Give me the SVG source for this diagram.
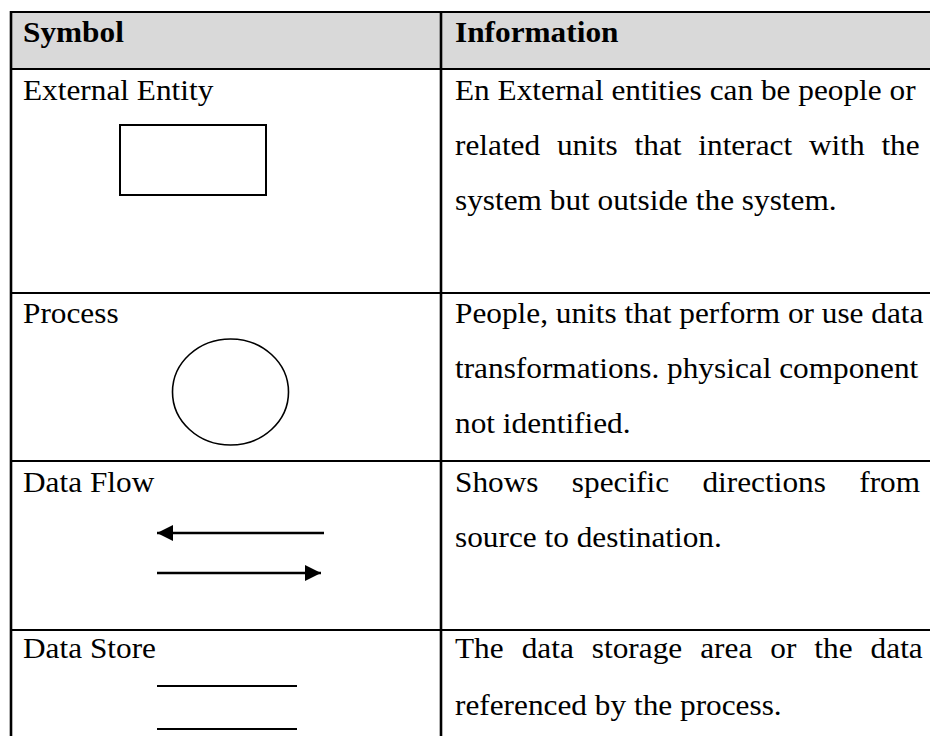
<svg xmlns="http://www.w3.org/2000/svg" width="930" height="736" viewBox="0 0 930 736">
  <style>
    .t { font-family: "Liberation Serif", "Times New Roman", serif; font-size: 28.6px; fill: #000; }
    .b { font-weight: bold; }
    .rule { stroke: #000; stroke-width: 2.2; fill: none; }
    .shape { stroke: #000; stroke-width: 2; fill: #fff; }
    .flow { stroke: #000; stroke-width: 2.5; fill: none; }
  </style>
  <defs>
    <marker id="head" viewBox="0 0 16 16" refX="16" refY="8" markerWidth="16" markerHeight="16" markerUnits="userSpaceOnUse" orient="auto">
      <path d="M0,0 L16,8 L0,16 Z" fill="#000"/>
    </marker>
  </defs>

  <!-- table frame -->
  <g id="table">
    <rect x="11" y="12" width="919" height="57" fill="#d9d9d9"/>
    <line class="rule" x1="10" y1="12" x2="930" y2="12"/>
    <line class="rule" x1="10" y1="69" x2="930" y2="69"/>
    <line class="rule" x1="10" y1="293" x2="930" y2="293"/>
    <line class="rule" x1="10" y1="461" x2="930" y2="461"/>
    <line class="rule" x1="10" y1="630" x2="930" y2="630"/>
    <line class="rule" x1="11" y1="11" x2="11" y2="736" style="stroke-width:2.6"/>
    <line class="rule" x1="441" y1="11" x2="441" y2="736" style="stroke-width:2.6"/>
  </g>

  <!-- header row -->
  <g id="header">
    <text class="t b" transform="matrix(1.095 0 0 1 23 42)">Symbol</text>
    <text class="t b" transform="matrix(1.095 0 0 1 455 42)">Information</text>
  </g>

  <!-- external entity -->
  <g id="external-entity">
    <text class="t" transform="matrix(1.095 0 0 1 23 100)">External Entity</text>
    <rect class="shape" x="120" y="125" width="146" height="70"/>
    <text class="t" transform="matrix(1.095 0 0 1 455 100)">En External entities can be people or</text>
    <text class="t" transform="matrix(1.095 0 0 1 455 155)" style="word-spacing:8.2px">related units that interact with the</text>
    <text class="t" transform="matrix(1.095 0 0 1 455 210)">system but outside the system.</text>
  </g>

  <!-- process -->
  <g id="process">
    <text class="t" transform="matrix(1.095 0 0 1 23 323)">Process</text>
    <ellipse class="shape" cx="230.5" cy="392" rx="58" ry="53" style="stroke-width:1.6"/>
    <text class="t" transform="matrix(1.095 0 0 1 455 323)">People, units that perform or use data</text>
    <text class="t" transform="matrix(1.095 0 0 1 455 378)">transformations. physical component</text>
    <text class="t" transform="matrix(1.095 0 0 1 455 433)">not identified.</text>
  </g>

  <!-- data flow -->
  <g id="data-flow">
    <text class="t" transform="matrix(1.095 0 0 1 23 492)">Data Flow</text>
    <text class="t" transform="matrix(1.095 0 0 1 455 492)" style="word-spacing:23.3px">Shows specific directions from</text>
    <text class="t" transform="matrix(1.095 0 0 1 455 547)">source to destination.</text>
  </g>

  <!-- data store -->
  <g id="data-store">
    <text class="t" transform="matrix(1.095 0 0 1 23 658)">Data Store</text>
    <line class="rule" x1="157" y1="686" x2="297" y2="686" style="stroke-width:2"/>
    <line class="rule" x1="157" y1="729" x2="297" y2="729" style="stroke-width:2"/>
    <text class="t" transform="matrix(1.095 0 0 1 455 658)" style="word-spacing:9.3px">The data storage area or the data</text>
    <text class="t" transform="matrix(1.095 0 0 1 455 715)">referenced by the process.</text>
  </g>

  <!-- flow arrows -->
  <g id="connectors">
    <line class="flow" x1="324" y1="533" x2="157" y2="533" marker-end="url(#head)"/>
    <line class="flow" x1="157" y1="573" x2="321" y2="573" marker-end="url(#head)"/>
  </g>
</svg>
